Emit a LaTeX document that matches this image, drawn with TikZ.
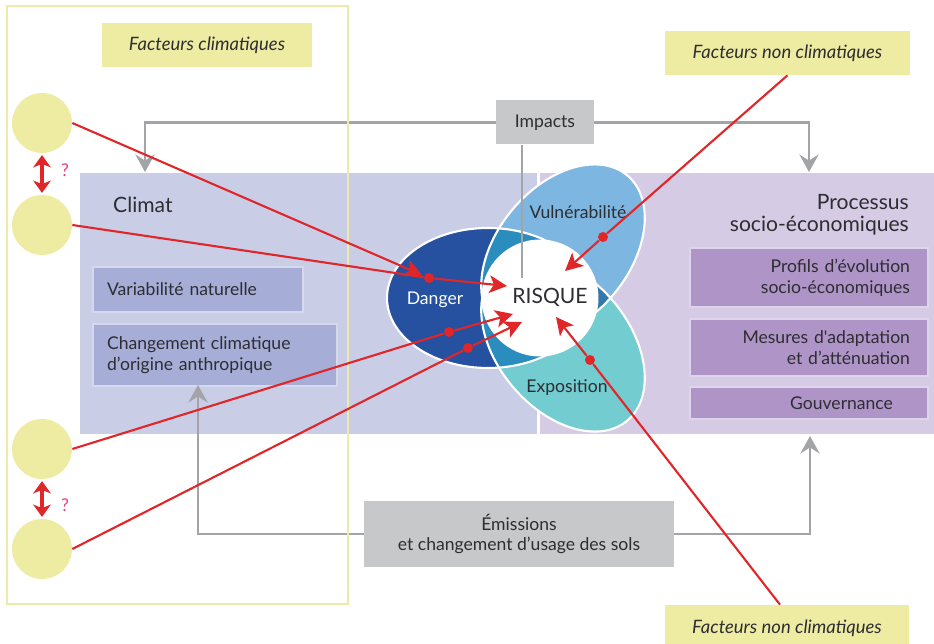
\documentclass[tikz,border=0pt]{standalone}
\usepackage{fontspec}
\setmainfont{Lato}
\usepackage{tikz}
\usetikzlibrary{arrows.meta, positioning, calc}
\definecolor{myyellow}{RGB}{238,236,163}
\definecolor{myframe}{RGB}{238,235,170}
\definecolor{myclimbg}{RGB}{201,205,230}
\definecolor{mysocbg}{RGB}{213,203,228}
\definecolor{myclimbox}{RGB}{166,173,215}
\definecolor{myclimedge}{RGB}{214,217,238}
\definecolor{mysocbox}{RGB}{175,148,200}
\definecolor{mysocedge}{RGB}{222,212,236}
\definecolor{mygraybox}{RGB}{199,200,202}
\definecolor{mygrayline}{RGB}{163,164,168}
\definecolor{myred}{RGB}{225,38,42}
\definecolor{mypink}{RGB}{232,60,130}
\definecolor{mydanger}{RGB}{38,80,160}
\definecolor{myvuln}{RGB}{126,182,226}
\definecolor{myexpo}{RGB}{115,204,208}
\definecolor{mymid}{RGB}{43,140,190}
\definecolor{mydeep}{RGB}{52,120,170}
\definecolor{mytext}{RGB}{45,45,50}
\tikzset{
  yelbox/.style={rectangle, fill=myyellow, minimum height=0.88cm,
    font=\fontsize{10.5}{12}\selectfont\itshape, text=mytext},
  factor/.style={circle, fill=myyellow, minimum size=1.2cm, inner sep=0pt},
  climbox/.style={rectangle, fill=myclimbox, draw=myclimedge, line width=0.8pt,
    align=left, inner xsep=0.28cm, font=\fontsize{10}{12}\selectfont, text=mytext},
  socbox/.style={rectangle, fill=mysocbox, draw=mysocedge, line width=0.8pt,
    align=right, inner xsep=0.36cm, text width=4.04cm,
    font=\fontsize{10}{12}\selectfont, text=mytext},
  graybox/.style={rectangle, fill=mygraybox, align=center,
    font=\fontsize{10}{11.5}\selectfont, text=mytext},
  heading/.style={font=\fontsize{12}{12.5}\selectfont, text=mytext},
  ovallabel/.style={font=\fontsize{10}{12}\selectfont, text=mytext},
  reddot/.style={circle, fill=myred, minimum size=0.2cm, inner sep=0pt},
  redline/.style={line width=1.2pt, color=myred},
  redarrow/.style={redline, -{Stealth[length=10pt, width=10pt, inset=2.5pt]}},
  twoway/.style={line width=1.8pt, color=myred, shorten <=1pt, shorten >=1pt,
    {Stealth[length=7pt, width=10pt, inset=2pt]}-{Stealth[length=7pt, width=10pt, inset=2pt]}},
  grayline/.style={line width=1.3pt, color=mygrayline},
  grayarrow/.style={grayline, -{Stealth[length=10pt, width=11pt, inset=3.5pt]}},
  vulnrot/.style={rotate around={50:(563,252)}},
  exporot/.style={rotate around={-50:(563,344)}}
}

\begin{document}
\begin{tikzpicture}[x=0.02cm, y=-0.02cm]
  \useasboundingbox (0,0) rectangle (934,644);

  % the two coloured fields
  \node[rectangle, fill=myclimbg, minimum width=9.14cm, minimum height=5.22cm] (climat) at (308.5,303.5) {};
  \node[rectangle, fill=mysocbg, minimum width=7.88cm, minimum height=5.22cm] (socio) at (737,303.5) {};
  \node[heading, anchor=west] (climtxt) at (107,205) {Climat};
  \node[climbox, text width=3.64cm, minimum height=0.9cm] (varnat) at (198,289.5) {Variabilité naturelle};
  \node[climbox, text width=4.32cm, minimum height=1.24cm] (anthro) at (215,355) {Changement climatique\\d’origine anthropique};
  \node[heading, anchor=east, align=right] (proc) at (915,215) {Processus\\socio-économiques};
  \node[socbox, minimum height=1.18cm] (profils) at (809,277.5) {Profils d’évolution\\socio-économiques};
  \node[socbox, minimum height=1.14cm] (mesures) at (809,347.5) {Mesures d\textquotesingle adaptation\\et d’atténuation};
  \node[socbox, minimum height=0.64cm, inner xsep=0.7cm, text width=3.36cm] (gouv) at (809,403) {Gouvernance};

  % grey links
  \node[graybox, minimum width=1.96cm, minimum height=0.88cm] (impacts) at (545,122.5) {Impacts};
  \node[graybox, minimum width=6.2cm, minimum height=1.32cm] (emis) at (519,534) {Émissions\\et changement d’usage des sols};
  \coordinate (ca) at (145,172);
  \coordinate (sa) at (809,172);
  \coordinate (cb) at (198,385);
  \coordinate (sb) at (810,436);
  \draw[grayarrow] (impacts.west) -| (ca);
  \draw[grayarrow] (impacts.east) -| (sa);
  \draw[grayarrow] (emis.west) -| (cb);
  \draw[grayarrow] (emis.east) -| (sb);

  % the three ovals
  \fill[mydanger] (488,298) ellipse [x radius=101, y radius=70];
  \fill[myvuln, vulnrot] (563,252) ellipse [x radius=100, y radius=66];
  \fill[myexpo, exporot] (563,344) ellipse [x radius=100, y radius=66];
  \begin{scope}
    \clip (488,298) ellipse [x radius=101, y radius=70];
    \fill[mymid, vulnrot] (563,252) ellipse [x radius=100, y radius=66];
    \fill[mymid, exporot] (563,344) ellipse [x radius=100, y radius=66];
  \end{scope}
  \begin{scope}
    \clip[vulnrot] (563,252) ellipse [x radius=100, y radius=66];
    \fill[mydeep, exporot] (563,344) ellipse [x radius=100, y radius=66];
  \end{scope}
  \draw[white, line width=1.2pt] (488,298) ellipse [x radius=101, y radius=70];
  \draw[white, line width=1.2pt, vulnrot] (563,252) ellipse [x radius=100, y radius=66];
  \draw[white, line width=1.2pt, exporot] (563,344) ellipse [x radius=100, y radius=66];
  \node[ovallabel, text=white] (danger) at (435,300) {Danger};
  \node[ovallabel] (vuln) at (578,212) {Vulnérabilité};
  \node[ovallabel] (expo) at (567,388) {Exposition};
  \node[circle, fill=white, minimum size=2.34cm, inner sep=0pt] (risque) at (540,298) {};
  \node[font=\fontsize{12}{14}\selectfont, text=mytext] (risqtxt) at (550,297) {RISQUE};
  \coordinate (ri) at (522,278);
  \draw[grayline] (impacts.south -| ri) -- (ri);

  % climatic factors
  \draw[myframe, line width=1.6pt] (7,6) rectangle (348,604);
  \node[yelbox, minimum width=4.2cm] (fclim) at (207,45) {Facteurs climatiques};
  \node[factor] (c1) at (42,123) {};
  \node[factor] (c2) at (42,225) {};
  \node[factor] (c3) at (42,449) {};
  \node[factor] (c4) at (42,549) {};
  \draw[twoway] (c1) -- (c2);
  \draw[twoway] (c3) -- (c4);
  \node[text=mypink, font=\fontsize{10}{12}\selectfont] (q1) at (65,170) {?};
  \node[text=mypink, font=\fontsize{10}{12}\selectfont] (q2) at (65,505) {?};

  % non climatic factors
  \node[yelbox, minimum width=4.9cm] (fnc1) at (787.5,53) {Facteurs non climatiques};
  \node[yelbox, minimum width=4.88cm, minimum height=0.92cm] (fnc2) at (787,628) {Facteurs non climatiques};

  % red links
  \node[reddot] (d1) at (429,278) {};
  \node[reddot] (d3) at (449,332) {};
  \node[reddot] (d4) at (468,348) {};
  \node[reddot] (d5) at (603,237) {};
  \node[reddot] (d6) at (590,360) {};
  \coordinate (t1) at (422,275);
  \coordinate (r1) at (507,286);
  \coordinate (r3) at (513,314);
  \coordinate (r4) at (522,322);
  \coordinate (r5) at (565,271);
  \coordinate (r6) at (556,317);
  \draw[redarrow] (c1.east) -- (t1);
  \draw[redline] (c2.east) -- (d1);
  \draw[redarrow] (d1) -- (r1);
  \draw[redline] (c3.east) -- (d3);
  \draw[redarrow] (d3) -- (r3);
  \draw[redline] (c4.east) -- (d4);
  \draw[redarrow] (d4) -- (r4);
  \draw[redline] (fnc1.south) -- (d5);
  \draw[redarrow] (d5) -- (r5);
  \draw[redline] ([xshift=-0.14cm]fnc2.north) -- (d6);
  \draw[redarrow] (d6) -- (r6);
\end{tikzpicture}
\end{document}
